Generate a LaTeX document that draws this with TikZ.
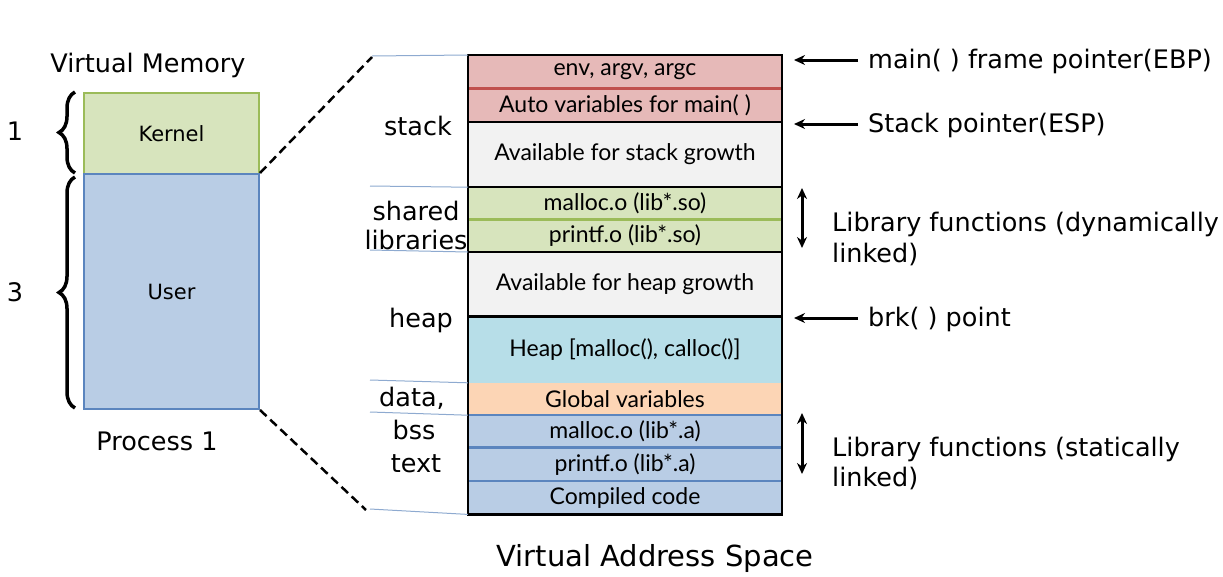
\documentclass[tikz,border=0pt]{standalone}
\usepackage{fontspec}
\setmainfont{DejaVu Sans}
\newfontfamily\boxfont{Lato}
\usetikzlibrary{arrows.meta,decorations.pathreplacing}
\definecolor{kerfill}{HTML}{D7E4BD}
\definecolor{kerline}{HTML}{9BBB59}
\definecolor{usrfill}{HTML}{B9CDE5}
\definecolor{usrline}{HTML}{5B85BE}
\definecolor{pinkfill}{HTML}{E6B9B8}
\definecolor{redline}{HTML}{C0504D}
\definecolor{greyfill}{HTML}{F2F2F2}
\definecolor{cyanfill}{HTML}{B7DEE8}
\definecolor{peachfill}{HTML}{FCD5B5}
\definecolor{sepline}{HTML}{8EAAD0}
\tikzset{
  row/.style={minimum width=314pt, inner sep=0pt, font=\boxfont\fontsize{23}{24}\selectfont, anchor=north},
  lbl/.style={font=\fontsize{25.5}{27}\selectfont, inner sep=0pt},
  sidelbl/.style={font=\fontsize{25.5}{27}\selectfont, inner sep=0pt, anchor=west},
  ptr/.style={line width=3pt, -{Stealth[length=11pt,width=10pt]}},
  dptr/.style={line width=3pt, {Stealth[length=11pt,width=10pt]}-{Stealth[length=11pt,width=10pt]}},
  sep/.style={sepline, line width=1pt},
  brc/.style={line width=3.5pt, decorate, decoration={brace, amplitude=16pt}},
}
\begin{document}
\begin{tikzpicture}[x=1pt,y=-1pt]
\useasboundingbox (0,0) rectangle (1223,576);
% left column
\node[lbl] (vm) at (148,65) {Virtual Memory};
\node[draw=kerline, fill=kerfill, line width=2pt, minimum width=175pt, minimum height=81pt, inner sep=0pt, anchor=north west, font=\fontsize{21}{22}\selectfont] (kernel) at (83,92) {Kernel};
\node[draw=usrline, fill=usrfill, line width=2pt, minimum width=175pt, minimum height=235pt, inner sep=0pt, anchor=north west, font=\fontsize{21}{22}\selectfont] (user) at (83,173) {User};
\node[lbl] (proc) at (157,441) {Process 1};
\coordinate (b1a) at (75,173); \coordinate (b1b) at (75,92);
\coordinate (b3a) at (75,408); \coordinate (b3b) at (75,177);
\draw[brc] (b1a) -- (b1b);
\draw[brc] (b3a) -- (b3b);
\node[lbl] (one) at (15,131) {1};
\node[lbl] (three) at (15,292) {3};
% rows
\node[row, fill=pinkfill, minimum height=33pt] (env) at (625,55) {env, argv, argc};
\node[row, fill=pinkfill, minimum height=33pt] (auto) at (env.south) {Auto variables for main( )};
\node[row, fill=greyfill, minimum height=65pt] (sgrow) at (auto.south) {Available for stack growth};
\node[row, fill=kerfill, minimum height=32pt] (mso) at (sgrow.south) {malloc.o (lib*.so)};
\node[row, fill=kerfill, minimum height=32pt] (pso) at (mso.south) {printf.o (lib*.so)};
\node[row, fill=greyfill, minimum height=64pt] (hgrow) at (pso.south) {Available for heap growth};
\node[row, fill=cyanfill, minimum height=66pt] (heap) at (hgrow.south) {Heap [malloc(), calloc()]};
\node[row, fill=peachfill, minimum height=32pt] (glob) at (heap.south) {Global variables};
\node[row, fill=usrfill, minimum height=32pt] (ma) at (glob.south) {malloc.o (lib*.a)};
\node[row, fill=usrfill, minimum height=33pt] (pa) at (ma.south) {printf.o (lib*.a)};
\node[row, fill=usrfill, minimum height=33pt] (cc) at (pa.south) {Compiled code};
% inner lines
\draw[redline, line width=2.5pt] (env.south west) -- (env.south east);
\draw[line width=2.5pt] (auto.south west) -- (auto.south east);
\draw[line width=2.5pt] (sgrow.south west) -- (sgrow.south east);
\draw[kerline, line width=2.5pt] (mso.south west) -- (mso.south east);
\draw[line width=2.5pt] (pso.south west) -- (pso.south east);
\draw[line width=2.5pt] (hgrow.south west) -- (hgrow.south east);
\draw[usrline, line width=2.5pt] (glob.south west) -- (glob.south east);
\draw[usrline, line width=2.5pt] (ma.south west) -- (ma.south east);
\draw[usrline, line width=2.5pt] (pa.south west) -- (pa.south east);
\draw[line width=2.5pt] (env.north west) rectangle (cc.south east);
% left separators
\coordinate (s0) at (372,56); \coordinate (s1) at (370,186); \coordinate (s2) at (370,250);
\coordinate (s3) at (370,380); \coordinate (s4) at (370,412); \coordinate (s5) at (370,509);
\draw[sep] (s0) -- (env.north west);
\draw[sep] (s1) -- (mso.north west);
\draw[sep] (s2) -- (pso.south west);
\draw[sep] (s3) -- (glob.north west);
\draw[sep] (s4) -- (glob.south west);
\draw[sep] (s5) -- (cc.south west);
\node[lbl] (lstack) at (418,126) {stack};
\node[lbl] (lshared) at (416,211) {shared};
\node[lbl] (llib) at (416,240) {libraries};
\node[lbl] (lheap) at (421,320) {heap};
\node[lbl] (ldata) at (412,398) {data,};
\node[lbl] (lbss) at (414,430) {bss};
\node[lbl] (ltext) at (416,464) {text};
% dashed connectors
\coordinate (dt) at (372,57); \coordinate (db) at (366,510);
\draw[dashed, line width=2.5pt, dash pattern=on 9pt off 5pt] (user.north east) -- (dt);
\draw[dashed, line width=2.5pt, dash pattern=on 9pt off 5pt] (user.south east) -- (db);
% right pointers
\coordinate (e1) at (794,60); \coordinate (t1) at (858,60);
\coordinate (e2) at (794,124); \coordinate (t2) at (858,124);
\coordinate (e3) at (794,318); \coordinate (t3) at (858,318);
\draw[ptr] (t1) -- (e1);
\draw[ptr] (t2) -- (e2);
\draw[ptr] (t3) -- (e3);
\node[sidelbl] (ebp) at (868,61) {main( ) frame pointer(EBP)};
\node[sidelbl] (esp) at (868,125) {Stack pointer(ESP)};
\node[sidelbl] (brk) at (868,319) {brk( ) point};
\coordinate (d1a) at (802,188); \coordinate (d1b) at (802,248);
\coordinate (d2a) at (802,413); \coordinate (d2b) at (802,474);
\draw[dptr] (d1a) -- (d1b);
\draw[dptr] (d2a) -- (d2b);
\node[sidelbl] (dyn1) at (832,224) {Library functions (dynamically};
\node[sidelbl] (dyn2) at (832,254) {linked)};
\node[sidelbl] (st1) at (832,449) {Library functions (statically};
\node[sidelbl] (st2) at (832,478) {linked)};
\node[lbl, font=\fontsize{29}{31}\selectfont] (vas) at (655,558) {Virtual Address Space};
\end{tikzpicture}
\end{document}
